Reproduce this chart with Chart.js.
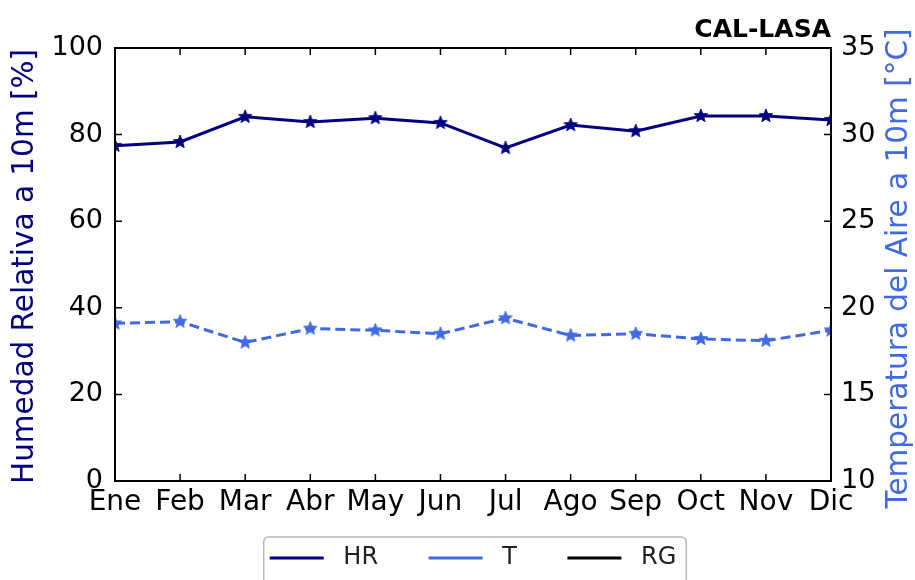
<!DOCTYPE html>
<html>
<head>
<meta charset="utf-8">
<script src="https://cdn.jsdelivr.net/npm/chart.js@4.4.1/dist/chart.umd.min.js"></script>
<style>
  html, body { margin: 0; padding: 0; background: #fff; }
  #wrap { width: 915px; height: 580px; }
</style>
</head>
<body>
<div id="wrap"><canvas id="c" width="915" height="580"></canvas></div>
<script>
// Monthly means at station CAL-LASA
const months = ['Ene', 'Feb', 'Mar', 'Abr', 'May', 'Jun', 'Jul', 'Ago', 'Sep', 'Oct', 'Nov', 'Dic'];
const humedad = [77.4, 78.3, 84.1, 82.9, 83.8, 82.7, 76.9, 82.2, 80.8, 84.3, 84.3, 83.4];   // HR [%]
const temperatura = [19.1, 19.2, 18.0, 18.8, 18.7, 18.5, 19.4, 18.4, 18.5, 18.2, 18.1, 18.7]; // T [°C]
const radiacion = []; // RG (no data)
const humedadTicks = [0, 20, 40, 60, 80, 100];
const tempTicks = [10, 15, 20, 25, 30, 35];

const COL_HR = '#000080';
const COL_T = '#4169e1';
const COL_RG = '#000000';

Chart.defaults.font.family = "'DejaVu Sans', sans-serif";

// filled five-point star used as marker
function starImage(color) {
  const size = 18, r = 7, c = document.createElement('canvas');
  c.width = c.height = size;
  const g = c.getContext('2d');
  g.translate(size / 2, size / 2);
  g.beginPath();
  for (let i = 0; i < 10; i++) {
    const rad = i % 2 ? r * 0.42 : r;
    const a = -Math.PI / 2 + i * Math.PI / 5;
    g.lineTo(rad * Math.cos(a), rad * Math.sin(a));
  }
  g.closePath();
  g.fillStyle = color;
  g.fill();
  g.strokeStyle = color;
  g.lineWidth = 1;
  g.stroke();
  return c;
}

// box, inward tick marks, titles and legend frame
const decorations = {
  id: 'decorations',
  afterDraw(chart) {
    const { ctx, chartArea: a, scales } = chart;
    const L = 7;
    ctx.save();
    ctx.strokeStyle = '#000';
    ctx.lineWidth = 1.5;
    ctx.beginPath();
    scales.x.ticks.forEach((t, i) => {
      const px = scales.x.getPixelForTick(i);
      ctx.moveTo(px, a.bottom); ctx.lineTo(px, a.bottom - L);
      ctx.moveTo(px, a.top); ctx.lineTo(px, a.top + L);
    });
    scales.y.ticks.forEach(t => {
      const py = scales.y.getPixelForValue(t.value);
      ctx.moveTo(a.left, py); ctx.lineTo(a.left + L, py);
    });
    scales.y1.ticks.forEach(t => {
      const py = scales.y1.getPixelForValue(t.value);
      ctx.moveTo(a.right, py); ctx.lineTo(a.right - L, py);
    });
    ctx.stroke();
    ctx.lineWidth = 2;
    ctx.strokeRect(a.left, a.top, a.right - a.left, a.bottom - a.top);

    // station name
    ctx.fillStyle = '#000';
    ctx.font = "bold 25px 'DejaVu Sans'";
    ctx.textAlign = 'right';
    ctx.textBaseline = 'alphabetic';
    ctx.fillText('CAL-LASA', a.right, 37);

    // axis titles, both reading upward
    const cy = (a.top + a.bottom) / 2;
    ctx.font = "29.5px 'DejaVu Sans'";
    ctx.textAlign = 'center';
    ctx.save();
    ctx.translate(33, cy + 2);
    ctx.rotate(-Math.PI / 2);
    ctx.fillStyle = COL_HR;
    ctx.fillText('Humedad Relativa a 10m [%]', 0, 0);
    ctx.restore();
    ctx.save();
    ctx.translate(907, cy + 4);
    ctx.rotate(-Math.PI / 2);
    ctx.fillStyle = COL_T;
    ctx.fillText('Temperatura del Aire a 10m [°C]', 0, 0);
    ctx.restore();

    // legend frame
    const hb = chart.legend.legendHitBoxes;
    if (hb && hb.length) {
      const first = hb[0], last = hb[hb.length - 1];
      const x0 = first.left - 6, x1 = last.left + last.width + 10;
      const y0 = first.top + first.height / 2 - 21, y1 = chart.height + 10;
      ctx.strokeStyle = '#b8b8b8';
      ctx.lineWidth = 1.5;
      ctx.beginPath();
      ctx.roundRect(x0, y0, x1 - x0, y1 - y0, 5);
      ctx.stroke();
    }
    ctx.restore();
  }
};

new Chart(document.getElementById('c'), {
  type: 'line',
  data: {
    labels: months,
    datasets: [
      { label: 'HR', data: humedad, yAxisID: 'y', borderColor: COL_HR, backgroundColor: COL_HR,
        borderWidth: 3, pointStyle: starImage(COL_HR), pointRadius: 7, tension: 0, clip: 0 },
      { label: 'T', data: temperatura, yAxisID: 'y1', borderColor: COL_T, backgroundColor: COL_T,
        borderWidth: 3, borderDash: [10, 5], pointStyle: starImage(COL_T), pointRadius: 7, tension: 0, clip: 0 },
      { label: 'RG', data: radiacion, yAxisID: 'y', borderColor: COL_RG, backgroundColor: COL_RG,
        borderWidth: 3, pointRadius: 0, clip: 0 }
    ]
  },
  options: {
    responsive: false,
    animation: false,
    layout: { padding: { top: 48, left: 0, right: 0, bottom: 0 } },
    plugins: {
      tooltip: { enabled: false },
      title: { display: false },
      legend: {
        position: 'bottom',
        fullSize: false,
        labels: {
          usePointStyle: true,
          pointStyleWidth: 54,
          padding: 20,
          color: '#222',
          font: { size: 24 },
          generateLabels(chart) {
            const items = Chart.defaults.plugins.legend.labels.generateLabels(chart);
            // wider spacing between entries (all but the last)
            return items.map((l, i) => ({
              ...l, pointStyle: 'line', text: ' ' + l.text + (i < items.length - 1 ? '    ' : '')
            }));
          }
        }
      }
    },
    scales: {
      x: {
        type: 'category',
        offset: false,
        grid: { display: false, drawTicks: false },
        border: { display: false },
        ticks: { color: '#000', font: { size: 28 }, padding: 5, maxRotation: 0, autoSkip: false },
        afterFit(s) { s.height = 45; }
      },
      y: {
        position: 'left',
        min: humedadTicks[0],
        max: humedadTicks[humedadTicks.length - 1],
        grid: { display: false, drawTicks: false },
        border: { display: false },
        ticks: { color: '#000', font: { size: 27 }, padding: 12 },
        afterBuildTicks(s) { s.ticks = humedadTicks.map(v => ({ value: v })); },
        afterFit(s) { s.width = 115; }
      },
      y1: {
        position: 'right',
        min: tempTicks[0],
        max: tempTicks[tempTicks.length - 1],
        grid: { display: false, drawTicks: false },
        border: { display: false },
        ticks: { color: '#000', font: { size: 27 }, padding: 10 },
        afterBuildTicks(s) { s.ticks = tempTicks.map(v => ({ value: v })); },
        afterFit(s) { s.width = 84; }
      }
    }
  },
  plugins: [decorations]
});
</script>
</body>
</html>
